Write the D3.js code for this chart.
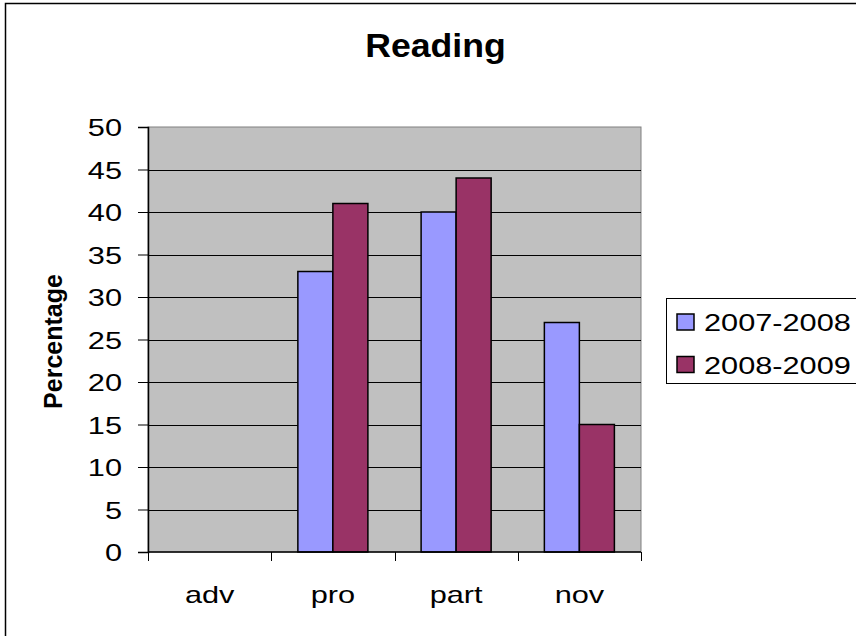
<!DOCTYPE html>
<html>
<head>
<meta charset="utf-8">
<script src="https://cdn.jsdelivr.net/npm/d3@7"></script>
<style>
	html, body { margin: 0; padding: 0; background: #fff; overflow: hidden; }
	svg text { font-family: "Liberation Sans", Arial, sans-serif; fill: #000; }
</style>
</head>
<body>
<div id="chart"></div>
<script>
// chart data
var categories = ['adv', 'pro', 'part', 'nov'];
var seriesNames = ['2007-2008', '2008-2009'];
var values2007 = [0, 33, 40, 27];
var values2008 = [0, 41, 44, 15];
var yTicks = [0, 5, 10, 15, 20, 25, 30, 35, 40, 45, 50];
var seriesColors = ['#9999ff', '#993366'];

var width = 856;
var height = 636;
var plot = {left: 148, right: 641, top: 127, bottom: 552};
// regular text looks wider than Arial in the reference
var wideScale = 1.28;

var svg = d3.select('#chart')
	.append('svg')
	.attr('width', width)
	.attr('height', height);

// outer frame (right and bottom edges are cut off)
svg.append('rect')
	.attr('x', 5.5)
	.attr('y', 3.5)
	.attr('width', 1000)
	.attr('height', 1000)
	.attr('fill', '#fff')
	.attr('stroke', '#000')
	.attr('stroke-width', 1.5);

var x = d3.scaleBand()
	.domain(categories)
	.range([plot.left, plot.right])
	.paddingInner(0)
	.paddingOuter(0);

var x1 = d3.scaleBand()
	.domain(seriesNames)
	.range([0, x.bandwidth()])
	.paddingInner(0)
	.paddingOuter(0.76);

var y = d3.scaleLinear()
	.domain([0, 50])
	.range([plot.bottom, plot.top]);

// plot area
svg.append('rect')
	.attr('x', plot.left)
	.attr('y', plot.top)
	.attr('width', plot.right - plot.left)
	.attr('height', plot.bottom - plot.top)
	.attr('fill', '#c0c0c0')
	.attr('stroke', '#808080')
	.attr('stroke-width', 1);

// gridlines
svg.append('g')
	.selectAll('line')
	.data(yTicks.filter(d => d > 0 && d < 50))
	.enter()
	.append('line')
	.attr('x1', plot.left)
	.attr('x2', plot.right)
	.attr('y1', d => Math.round(y(d)) + 0.5)
	.attr('y2', d => Math.round(y(d)) + 0.5)
	.attr('stroke', '#000')
	.attr('stroke-width', 1);

// bars
var rows = categories.map((c, i) => ({
	key: c,
	values: [
		{series: seriesNames[0], value: values2007[i], color: seriesColors[0]},
		{series: seriesNames[1], value: values2008[i], color: seriesColors[1]}
	]
}));

svg.append('g')
	.attr('class', 'bars')
	.selectAll('g')
	.data(rows)
	.enter()
	.append('g')
	.attr('transform', d => `translate(${x(d.key)}, 0)`)
	.selectAll('rect')
	.data(d => d.values.filter(v => v.value > 0))
	.enter()
	.append('rect')
	.attr('x', d => x1(d.series))
	.attr('y', d => y(d.value))
	.attr('width', x1.bandwidth())
	.attr('height', d => y(0) - y(d.value))
	.attr('fill', d => d.color)
	.attr('stroke', '#000')
	.attr('stroke-width', 1.5);

// y axis
var yAxis = g => g
	.attr('transform', `translate(${plot.left}, 0)`)
	.call(d3.axisLeft(y).tickValues(yTicks).tickSize(10).tickPadding(0))
	.call(g => g.select('.domain').attr('stroke', '#000').attr('stroke-width', 1.5))
	.call(g => g.selectAll('.tick line').attr('stroke', '#000'))
	.call(g => g.selectAll('.tick text')
		.attr('x', 0)
		.attr('dy', '0.36em')
		.attr('font-size', 24)
		.attr('font-family', null)
		.attr('transform', `translate(-26, 0) scale(${wideScale}, 1)`));

svg.append('g').call(yAxis);

// x axis, ticks on category boundaries
var xAxis = g => g
	.attr('transform', `translate(0, ${plot.bottom})`)
	.call(g => g.append('line')
		.attr('x1', plot.left)
		.attr('x2', plot.right)
		.attr('stroke', '#000')
		.attr('stroke-width', 1.5))
	.call(g => g.selectAll('.xtick')
		.data(categories.map(c => x(c)).concat([plot.right]))
		.enter()
		.append('line')
		.attr('class', 'xtick')
		.attr('x1', d => Math.round(d) + 0.5)
		.attr('x2', d => Math.round(d) + 0.5)
		.attr('y1', 0)
		.attr('y2', 9)
		.attr('stroke', '#000'))
	.call(g => g.selectAll('.xlabel')
		.data(categories)
		.enter()
		.append('text')
		.attr('class', 'xlabel')
		.attr('text-anchor', 'middle')
		.attr('font-size', 24)
		.attr('transform', d => `translate(${x(d) + x.bandwidth() / 2}, 50.5) scale(${wideScale}, 1)`)
		.text(d => d));

svg.append('g').call(xAxis);

// title
svg.append('text')
	.attr('text-anchor', 'middle')
	.attr('font-size', 33)
	.attr('font-weight', 'bold')
	.attr('transform', 'translate(435.5, 56.5) scale(1.08, 1)')
	.text('Reading');

// y axis title
svg.append('text')
	.attr('text-anchor', 'middle')
	.attr('font-size', 25)
	.attr('font-weight', 'bold')
	.attr('transform', 'translate(62, 341.5) rotate(-90)')
	.text('Percentage');

// legend
var legend = svg.append('g')
	.attr('transform', 'translate(666, 298)');

legend.append('rect')
	.attr('x', 0.5)
	.attr('y', 0.5)
	.attr('width', 300)
	.attr('height', 85)
	.attr('fill', '#fff')
	.attr('stroke', '#000')
	.attr('stroke-width', 1);

var legendItem = legend.selectAll('.item')
	.data(seriesNames)
	.enter()
	.append('g')
	.attr('class', 'item')
	.attr('transform', (d, i) => `translate(0, ${i * 42.5})`);

legendItem.append('rect')
	.attr('x', 11)
	.attr('y', 16)
	.attr('width', 17)
	.attr('height', 16)
	.attr('fill', (d, i) => seriesColors[i])
	.attr('stroke', '#000')
	.attr('stroke-width', 1.5);

legendItem.append('text')
	.attr('font-size', 24)
	.attr('transform', `translate(38, 33) scale(${wideScale}, 1)`)
	.text(d => d);
</script>
</body>
</html>
